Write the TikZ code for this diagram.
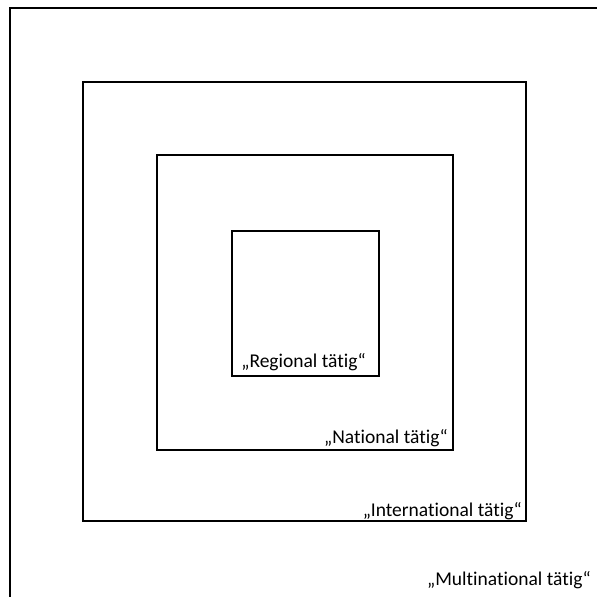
\documentclass[tikz,border=0pt]{standalone}
\usepackage{fontspec}
\setmainfont[Ligatures=NoCommon]{Carlito}
\usetikzlibrary{positioning,calc}

\begin{document}
\begin{tikzpicture}[x=1pt, y=-1pt,
      every box/.style={draw, line width=2.2pt},
      every label/.style={anchor=base east, inner sep=0pt, font=\fontsize{19.5}{23}\selectfont}]
      \useasboundingbox (0,0) rectangle (597,597);
      \clip (0,0) rectangle (597,597);
      % nested areas
      \draw[every box] (10,8) rectangle (640,640);
      \draw[every box] (83,82) rectangle (526,521);
      \draw[every box] (157,155) rectangle (453,450);
      \draw[every box] (232,231) rectangle (379,376);
      \node[every label] (reg) at (366,367) {„Regional tätig“};
      \node[every label] (nat) at (448,443) {„National tätig“};
      \node[every label] (int) at (522,516) {„International tätig“};
      \node[every label] (mul) at (591,585) {„Multinational tätig“};
    \end{tikzpicture}
\end{document}
